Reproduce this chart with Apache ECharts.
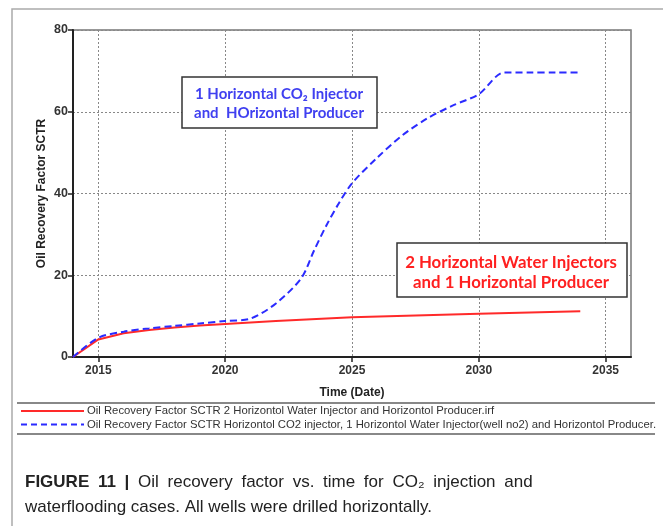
<!DOCTYPE html>
<html><head><meta charset="utf-8">
<script src="https://cdn.jsdelivr.net/npm/echarts@6/dist/echarts.min.js"></script>
<style>html,body{margin:0;padding:0;background:#fff}#c{width:663px;height:526px}</style>
</head><body><div id="c"></div>
<script>
var years = [2014,2015,2016,2017,2018,2019,2020,2021,2022,2023,2023.5,2024,2024.5,2025,2026,2027,2028,2029,2030,2031,2032,2033,2034];
var co2Values = [0,4.7,6.2,7.0,7.6,8.2,8.8,9.4,13.1,19.3,26,32.3,37.8,42.5,48.8,54.3,58.5,61.6,64.3,69.6,69.6,69.6,69.6];
var waterYears = [2014,2015,2016,2017,2018,2019,2020,2022,2025,2030,2034];
var waterValues = [0,4.3,5.8,6.6,7.2,7.7,8.1,8.8,9.7,10.6,11.2];
var xTicks = [2015,2020,2025,2030,2035];
var seriesNames = [
  'Oil Recovery Factor SCTR 2 Horizontol Water Injector and Horizontol Producer.irf',
  'Oil Recovery Factor SCTR Horizontol CO2 injector, 1 Horizontol Water Injector(well no2) and Horizontol Producer.'
];
var box1Lines = ['1 Horizontal CO\u2082 Injector','and  HOrizontal Producer'];
var box2Lines = ['2 Horizontal Water Injectors','and 1 Horizontal Producer'];
var captionBold = 'FIGURE 11 |';
var captionLine1 = 'Oil recovery factor vs. time for CO\u2082 injection and';
var captionLine2 = 'waterflooding cases. All wells were drilled horizontally.';

var RED = '#ff2a2a', BLUE = '#2b2bff';
var lineStyles = [{stroke:RED,lineWidth:2},{stroke:BLUE,lineWidth:2,lineDash:[6,4]}];

function justify(bold, rest){
  var s = '{b|' + bold.split(' ').join('}{s| }{b|') + '}{s| }';
  s += '{n|' + rest.split(' ').join('}{s| }{n|') + '}';
  return s;
}

var legendGraphics = [];
seriesNames.forEach(function(nm,i){
  var y = 411 + i*13.5;
  legendGraphics.push({type:'line',shape:{x1:21,y1:y,x2:84,y2:y},style:lineStyles[i]});
  legendGraphics.push({type:'text',x:87,y:y,style:{text:nm,fontFamily:'Liberation Sans',fontSize:11.3,fill:'#333',verticalAlign:'middle'}});
});

var chart = echarts.init(document.getElementById('c'));
var gridDotted = {show:true, lineStyle:{color:'#888', type:[2,2], width:1}};
var labelFmt = function(v){return String(v);};
chart.setOption({
  animation:false,
  grid:{left:73,right:32,top:30,bottom:169,show:true,borderColor:'#777',borderWidth:1.5,backgroundColor:'#fff'},
  xAxis:{type:'value',min:2014,max:2036,
    name:'Time (Date)',nameLocation:'middle',nameGap:30,nameMoveOverlap:false,
    nameTextStyle:{fontFamily:'Liberation Sans',fontWeight:'bold',fontSize:12,color:'#222'},
    axisLine:{show:true,onZero:false,lineStyle:{color:'#222',width:2}},
    axisTick:{show:true,length:5,customValues:xTicks,lineStyle:{color:'#222',width:1.5}},
    axisLabel:{customValues:xTicks,formatter:labelFmt,fontFamily:'Liberation Sans',fontWeight:'bold',fontSize:12,color:'#333',margin:8},
    splitLine:gridDotted},
  yAxis:{type:'value',min:0,max:80,interval:20,
    name:'Oil Recovery Factor SCTR',nameLocation:'middle',nameGap:25,nameMoveOverlap:false,
    nameTextStyle:{fontFamily:'Liberation Sans',fontWeight:'bold',fontSize:12,color:'#222'},
    axisLine:{show:true,lineStyle:{color:'#222',width:2}},
    axisTick:{show:true,length:5,lineStyle:{color:'#222',width:1.5}},
    axisLabel:{formatter:labelFmt,fontFamily:'Liberation Sans',fontWeight:'bold',fontSize:12.5,color:'#333',margin:5},
    splitLine:gridDotted},
  series:[
    {name:seriesNames[0],type:'line',showSymbol:false,symbol:'none',
      data:waterYears.map(function(y,i){return [y,waterValues[i]];}),
      lineStyle:{color:RED,width:2},itemStyle:{color:RED},z:3},
    {name:seriesNames[1],type:'line',showSymbol:false,symbol:'none',smooth:0.3,
      data:years.map(function(y,i){return [y,co2Values[i]];}),
      lineStyle:{color:BLUE,width:2,type:[7,4]},itemStyle:{color:BLUE},z:4}
  ],
  graphic:[
    {type:'rect',shape:{x:12,y:9,width:700,height:600},style:{fill:'none',stroke:'#aaa',lineWidth:1.5},z:-10,silent:true},
    {type:'line',shape:{x1:17,y1:403,x2:655,y2:403},style:{stroke:'#888',lineWidth:2}},
    {type:'line',shape:{x1:17,y1:434,x2:655,y2:434},style:{stroke:'#888',lineWidth:2}},
    {type:'rect',shape:{x:182,y:77,width:195,height:51},style:{fill:'#fff',stroke:'#333',lineWidth:1.5},z:50},
    {type:'text',x:279,y:94,z:51,style:{text:box1Lines[0],fontFamily:'Lato',fontWeight:'bold',fontSize:15,fill:'#4040f0',align:'center',verticalAlign:'middle'}},
    {type:'text',x:279,y:113,z:51,style:{text:box1Lines[1],fontFamily:'Lato',fontWeight:'bold',fontSize:15,fill:'#4040f0',align:'center',verticalAlign:'middle'}},
    {type:'rect',shape:{x:397,y:243,width:230,height:54},style:{fill:'#fff',stroke:'#333',lineWidth:1.5},z:50},
    {type:'text',x:511,y:263,z:51,style:{text:box2Lines[0],fontFamily:'Lato',fontWeight:'bold',fontSize:16.8,fill:'#ff2020',align:'center',verticalAlign:'middle'}},
    {type:'text',x:511,y:283,z:51,style:{text:box2Lines[1],fontFamily:'Lato',fontWeight:'bold',fontSize:16.8,fill:'#ff2020',align:'center',verticalAlign:'middle'}},
    {type:'text',x:25,y:482,style:{text:justify(captionBold,captionLine1),verticalAlign:'middle',
      rich:{b:{fontWeight:'bold',fontFamily:'Liberation Sans',fontSize:17,fill:'#222'},
            n:{fontFamily:'Liberation Sans',fontSize:17,fill:'#222'},
            s:{fontFamily:'Liberation Sans',fontSize:17,width:8.7}}}},
    {type:'text',x:25,y:507,style:{text:captionLine2,fontFamily:'Liberation Sans',fontSize:17,fill:'#222',verticalAlign:'middle'}}
  ].concat(legendGraphics)
});
</script></body></html>
